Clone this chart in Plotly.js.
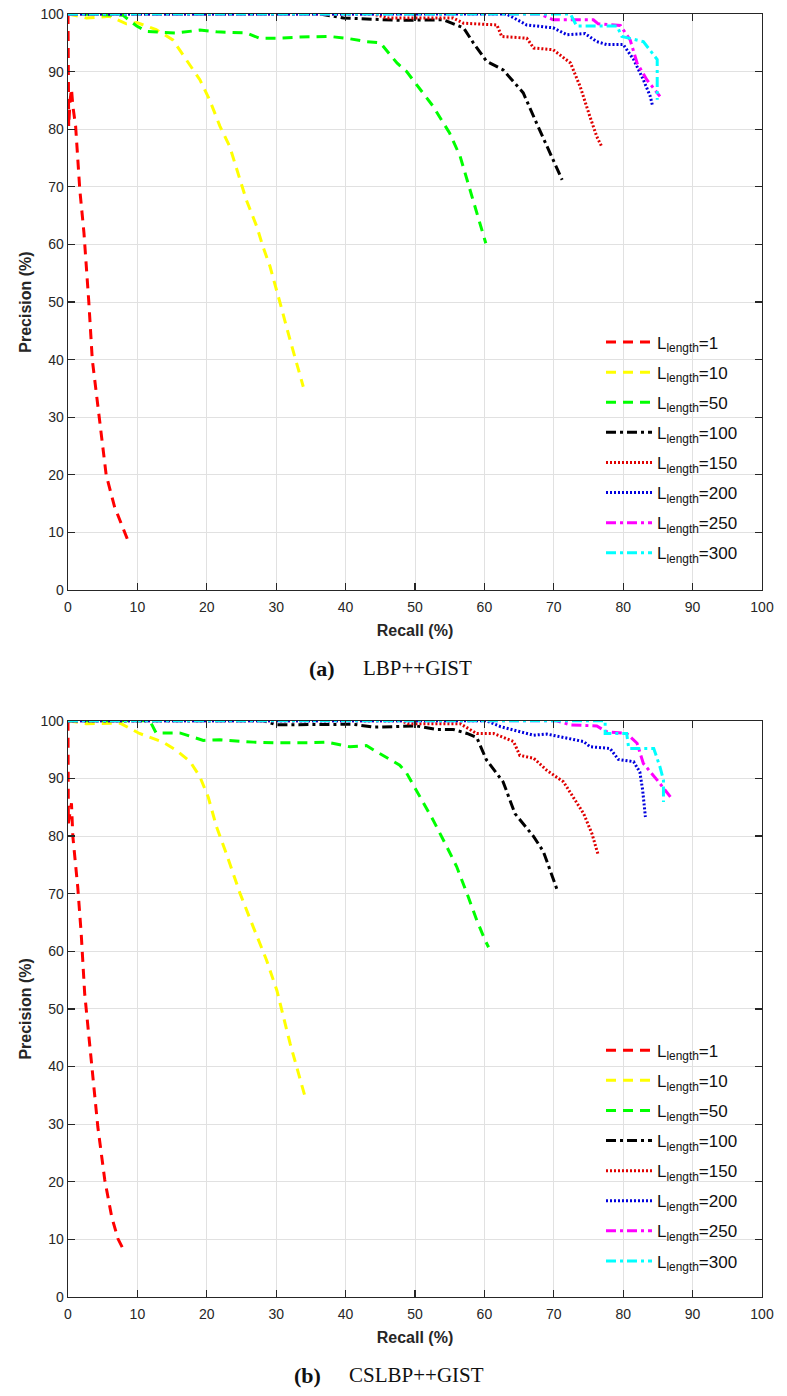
<!DOCTYPE html>
<html>
<head>
<meta charset="utf-8">
<script src="https://cdn.plot.ly/plotly-3.0.1.min.js"></script>
<style>html,body{margin:0;padding:0;background:#fff;}#chart{width:787px;height:1396px;}</style>
</head>
<body>
<div id="chart"></div>
<script>
// ---------- Data: panel (a) LBP++GIST ----------
const recallA_L1   = [0, 0.1, 0.1, 0.3, 0.5, 0.7, 1.1, 1.7, 2.3, 3.0, 3.5, 4.5, 5.5, 6.7, 8.6];
const precA_L1     = [100, 90, 80.5, 85, 87, 84, 80.5, 69.5, 62, 50, 40, 30, 20, 14.5, 8.7];
const recallA_L10  = [0, 2.65, 6.0, 8.4, 9.9, 12.7, 15.1, 17.1, 19.0, 20.4, 21.9, 23.3, 24.3, 25.7, 27.2, 28.1, 29.1, 30.1, 30.5, 32.0, 33.9];
const precA_L10    = [100, 99.3, 99.6, 98.3, 98.5, 97.3, 95.5, 92.0, 88.6, 85.1, 80.5, 77.0, 73.0, 67.7, 63.1, 59.6, 56.2, 52.1, 50.1, 43.4, 35.3];
const recallA_L50  = [0, 7.9, 9.9, 11.3, 13.7, 15.6, 19.0, 21.4, 25.7, 27.6, 30.1, 33.4, 37.7, 40.1, 43.0, 45.0, 47.4, 48.8, 52.6, 55.0, 56.5, 57.9, 58.9, 59.8, 60.2];
const precA_L50    = [100, 99.8, 97.9, 97.0, 96.8, 96.7, 97.2, 96.9, 96.7, 95.8, 95.8, 96.0, 96.1, 95.8, 95.2, 95.0, 91.5, 90.0, 84.0, 79.3, 75.3, 69.5, 65.4, 62.0, 60.2];
const recallA_L100 = [0, 36.3, 39.7, 47.8, 54.1, 57.0, 58.4, 60.3, 62.7, 65.6, 67.5, 69.5, 71.2];
const precA_L100   = [100, 100, 99.3, 98.9, 99.0, 97.6, 95.0, 91.8, 90.3, 86.3, 81.1, 75.9, 71.2];
const recallA_L150 = [0, 44, 46, 55.5, 57, 61.8, 62.5, 66.1, 67.1, 69.9, 72.4, 73.8, 75.2, 76.2, 76.9];
const precA_L150   = [100, 100, 99.3, 99.3, 98.4, 98.1, 96.1, 95.8, 94.1, 93.8, 91.5, 87.4, 82.2, 78.7, 77.0];
const recallA_L200 = [0, 63.2, 66.1, 69.9, 71.9, 74.5, 76.2, 77.6, 80.0, 81.5, 82.9, 83.9, 84.2];
const precA_L200   = [100, 100, 98.1, 97.6, 96.4, 96.6, 95.2, 94.7, 94.7, 92.1, 88.6, 85.7, 84.2];
const recallA_L250 = [0, 68.0, 69.9, 75.7, 76.4, 79.6, 81.0, 82.0, 83.4, 85.3];
const precA_L250   = [100, 100, 99.0, 99.0, 98.3, 98.0, 95.5, 91.5, 88.6, 85.7];
const recallA_L300 = [0, 72.4, 73.3, 79.1, 79.8, 82.9, 84.9, 84.9];
const precA_L300   = [100, 100, 97.9, 97.9, 96.1, 95.2, 92.1, 85.1];

// ---------- Data: panel (b) CSLBP++GIST ----------
const recallB_L1   = [0, 0.05, 0.5, 0.7, 1.4, 1.9, 2.4, 3.4, 4.3, 5.3, 6.3, 7.2, 8.0];
const precB_L1     = [100, 82.2, 85.7, 79.9, 71.2, 63.1, 52.7, 39.9, 29.5, 20.3, 13.9, 10.1, 8.2];
const recallB_L10  = [0, 2.65, 7.5, 10.3, 13.7, 15.6, 17.6, 19.0, 20.2, 21.4, 22.8, 24.8, 26.7, 28.6, 30.1, 32.0, 34.1];
const precB_L10    = [100, 99.5, 99.6, 97.8, 96.3, 94.9, 92.9, 90.3, 86.8, 81.6, 77.0, 70.0, 64.2, 58.5, 53.2, 44.0, 35.0];
const recallB_L50  = [0, 11.8, 12.7, 16.1, 19.5, 21.9, 26.7, 29.6, 34.9, 37.3, 40.6, 43.0, 44.5, 47.8, 48.8, 50.7, 52.6, 54.6, 56.0, 57.5, 58.9, 60.1, 60.6];
const precB_L50    = [100, 100, 97.9, 97.9, 96.6, 96.7, 96.3, 96.2, 96.2, 96.3, 95.5, 95.7, 94.6, 92.3, 90.9, 86.8, 82.8, 78.1, 74.7, 70.0, 65.4, 61.9, 60.7];
const recallB_L100 = [0, 28.1, 30.1, 38.3, 41.1, 44.0, 47.8, 50.2, 53.1, 55.5, 57.5, 58.9, 60.3, 62.7, 64.4, 67.1, 68.5, 69.5, 70.5];
const precB_L100   = [100, 100, 99.3, 99.4, 99.4, 98.9, 99.0, 99.1, 98.5, 98.5, 97.8, 97.1, 93.2, 89.4, 83.9, 79.9, 77.3, 74.1, 70.6];
const recallB_L150 = [0, 48, 49, 56.5, 58.9, 61.3, 64.2, 65.1, 67.1, 69.0, 71.4, 72.8, 74.3, 75.5, 76.4];
const precB_L150   = [100, 100, 99.5, 99.5, 97.8, 97.8, 96.4, 94.0, 93.5, 91.4, 89.4, 86.8, 83.9, 80.4, 76.7];
const recallB_L200 = [0, 60.3, 62.3, 67.1, 69.0, 74.3, 75.2, 78.1, 79.3, 81.5, 82.4, 82.8, 83.2];
const precB_L200   = [100, 100, 99.0, 97.5, 97.7, 96.4, 95.5, 95.2, 93.3, 92.9, 91.1, 88.0, 83.3];
const recallB_L250 = [0, 70.4, 72.4, 76.2, 77.6, 80.5, 82.0, 82.9, 84.9, 86.8];
const precB_L250   = [100, 100, 99.3, 99.1, 98.1, 97.8, 96.1, 92.6, 89.7, 86.8];
const recallB_L300 = [0, 77.4, 77.4, 80.5, 80.8, 84.4, 85.3, 85.8, 85.8];
const precB_L300   = [100, 100, 97.8, 97.8, 95.2, 95.2, 92.0, 89.7, 85.9];

const seriesNames = ['L<sub>length</sub>=1','L<sub>length</sub>=10','L<sub>length</sub>=50','L<sub>length</sub>=100',
                     'L<sub>length</sub>=150','L<sub>length</sub>=200','L<sub>length</sub>=250','L<sub>length</sub>=300'];
const xTickVals = [0,10,20,30,40,50,60,70,80,90,100];
const yTickVals = [0,10,20,30,40,50,60,70,80,90,100];
const captionLabels = ['(a)','(b)'];
const captionTexts  = ['LBP++GIST','CSLBP++GIST'];

// ---------- Styles ----------
const DASH = '10px,7px', DOT = '2px,2px', DASHDOT = '10px,4px,3px,4px';
const styles = [
  {color:'#ff0000', dash:DASH, width:3},
  {color:'#ffff00', dash:DASH, width:3},
  {color:'#00ff00', dash:DASH, width:3},
  {color:'#000000', dash:DASHDOT, width:3},
  {color:'#e00000', dash:DOT, width:3},
  {color:'#0000dd', dash:DOT, width:3},
  {color:'#ff00ff', dash:DASHDOT, width:3},
  {color:'#00ffff', dash:DASHDOT, width:3}
];

const panelA = [[recallA_L1,precA_L1],[recallA_L10,precA_L10],[recallA_L50,precA_L50],[recallA_L100,precA_L100],
                [recallA_L150,precA_L150],[recallA_L200,precA_L200],[recallA_L250,precA_L250],[recallA_L300,precA_L300]];
const panelB = [[recallB_L1,precB_L1],[recallB_L10,precB_L10],[recallB_L50,precB_L50],[recallB_L100,precB_L100],
                [recallB_L150,precB_L150],[recallB_L200,precB_L200],[recallB_L250,precB_L250],[recallB_L300,precB_L300]];

const traces = [];
function addPanel(panel, xa, ya, legendId, tag){
  panel.forEach((p,i)=>{
    traces.push({
      x:p[0], y:p[1], type:'scatter', mode:'lines', name:seriesNames[i],
      xaxis:xa, yaxis:ya, legend:legendId, legendgroup:tag+i,
      line:{color:styles[i].color, dash:styles[i].dash, width:styles[i].width},
      hoverinfo:'skip'
    });
  });
}
addPanel(panelA,'x','y','legend','a');
addPanel(panelB,'x2','y2','legend2','b');

const FONT = 'Liberation Sans, Arial, Helvetica, sans-serif';
const SERIF = 'Liberation Serif, Times New Roman, serif';
const axisCommon = {
  range:[0,100], autorange:false, showgrid:true, gridcolor:'#e1e1e1', gridwidth:1,
  zeroline:false, showline:true, linecolor:'#262626', linewidth:1.3, mirror:'ticks',
  ticks:'inside', ticklen:7, tickwidth:1.2, tickcolor:'#262626',
  tickfont:{family:FONT, size:14, color:'#262626'}, fixedrange:true
};
function xAxis(anchor){
  return Object.assign({}, axisCommon, {
    anchor:anchor, domain:[0,1], tickvals:xTickVals, ticktext:xTickVals.map(String),
    ticklabelstandoff:4,
    title:{text:'<b>Recall (%)</b>', font:{family:FONT,size:16,color:'#262626'}, standoff:10}
  });
}
function yAxis(anchor, dom){
  return Object.assign({}, axisCommon, {
    anchor:anchor, domain:dom, tickvals:yTickVals, ticktext:yTickVals.map(String),
    title:{text:'<b>Precision (%)</b>', font:{family:FONT,size:16,color:'#262626'}, standoff:5}
  });
}
const legendCommon = {
  xanchor:'left', yanchor:'top', bgcolor:'rgba(0,0,0,0)', borderwidth:0,
  font:{family:FONT, size:17, color:'#111'}, traceorder:'grouped', tracegroupgap:5, itemwidth:46
};

const layout = {
  width:787, height:1396, paper_bgcolor:'#fff', plot_bgcolor:'#fff',
  margin:{l:68.3, r:25.3, t:14, b:99.3},
  showlegend:true,
  xaxis: xAxis('y'),
  yaxis: yAxis('x',[0.5510,1]),
  xaxis2: xAxis('y2'),
  yaxis2: yAxis('x2',[0,0.4491]),
  legend: Object.assign({}, legendCommon, {x:0.768, y:0.758}),
  legend2: Object.assign({}, legendCommon, {x:0.768, y:0.206}),
  annotations:[
    {xref:'paper', yref:'paper', x:(337-68.3)/693.4, y:(1296.7-668)/1282.7, xanchor:'right', yanchor:'middle',
     text:'<b>'+captionLabels[0]+'</b>', showarrow:false, font:{family:SERIF, size:22, color:'#111'}},
    {xref:'paper', yref:'paper', x:(361-68.3)/693.4, y:(1296.7-668)/1282.7, xanchor:'left', yanchor:'middle',
     text:captionTexts[0], showarrow:false, font:{family:SERIF, size:21, color:'#111'}},
    {xref:'paper', yref:'paper', x:(323-68.3)/693.4, y:(1296.7-1375)/1282.7, xanchor:'right', yanchor:'middle',
     text:'<b>'+captionLabels[1]+'</b>', showarrow:false, font:{family:SERIF, size:22, color:'#111'}},
    {xref:'paper', yref:'paper', x:(347-68.3)/693.4, y:(1296.7-1375)/1282.7, xanchor:'left', yanchor:'middle',
     text:captionTexts[1], showarrow:false, font:{family:SERIF, size:21, color:'#111'}}
  ]
};

Plotly.newPlot('chart', traces, layout, {displayModeBar:false, staticPlot:true});
</script>
</body>
</html>
